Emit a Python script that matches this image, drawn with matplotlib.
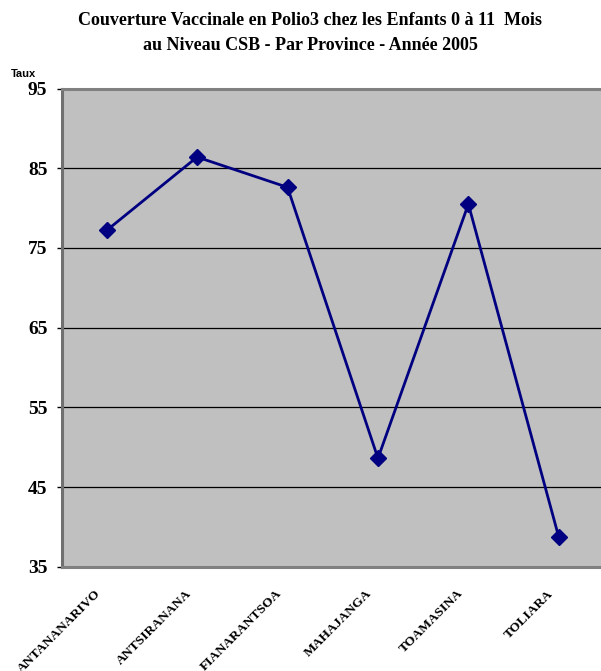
import matplotlib.pyplot as plt
from matplotlib.transforms import ScaledTranslation

provinces = ["ANTANANARIVO", "ANTSIRANANA", "FIANARANTSOA",
             "MAHAJANGA", "TOAMASINA", "TOLIARA"]
taux = [77.2, 86.4, 82.6, 48.6, 80.5, 38.7]
yticks = [35, 45, 55, 65, 75, 85, 95]

W, H = 601, 671
fig = plt.figure(figsize=(W / 100, H / 100), dpi=100)

# plot area in pixels: left 61, right ~604 (runs off the image), top 88.5, bottom 566.7
ax = fig.add_axes([61.5 / W, 1 - 566.7 / H, (604 - 61.5) / W, (566.7 - 88.5) / H])
ax.set_facecolor("#c0c0c0")

x = range(len(provinces))
ax.plot(x, taux, color="#000080", lw=2, marker="D", ms=8, zorder=3)

ax.set_xlim(-0.5, len(provinces) - 0.5)
ax.set_ylim(35, 95)
ax.set_yticks(yticks)
ax.set_yticklabels([str(t) for t in yticks], fontfamily="Liberation Serif",
                   fontweight="bold", fontsize=14)
ax.yaxis.grid(True, color="black", lw=0.9)
ax.set_axisbelow(True)

ax.set_xticks(list(x))
ax.set_xticklabels(provinces, rotation=45, ha="right", va="top",
                   rotation_mode="anchor", fontfamily="Liberation Serif",
                   fontweight="bold", fontsize=9.7)
ax.tick_params(axis="x", length=0, pad=15)
ax.tick_params(axis="y", length=3.6, width=1, color="black", pad=6.5)
shift = ScaledTranslation(-12 / 100, 0, fig.dpi_scale_trans)
for lab in ax.get_xticklabels():
    lab.set_transform(lab.get_transform() + shift)

for s in ["left", "top", "bottom"]:
    ax.spines[s].set_color("#808080")
    ax.spines[s].set_linewidth(2.2)
ax.spines["left"].set_color("#707070")
ax.spines["right"].set_visible(False)

title_kw = dict(ha="center", va="baseline", fontfamily="Liberation Serif",
                fontweight="bold", fontsize=13)
fig.text(310 / W, 1 - 25 / H,
         "Couverture Vaccinale en Polio3 chez les Enfants 0 à 11  Mois", **title_kw)
fig.text(310 / W, 1 - 50 / H, "au Niveau CSB - Par Province - Année 2005", **title_kw)
fig.text(11 / W, 1 - 77 / H, "Taux", ha="left", va="baseline",
         fontfamily="Liberation Sans", fontweight="bold", fontsize=8)

fig.savefig("out.png", dpi=100)
